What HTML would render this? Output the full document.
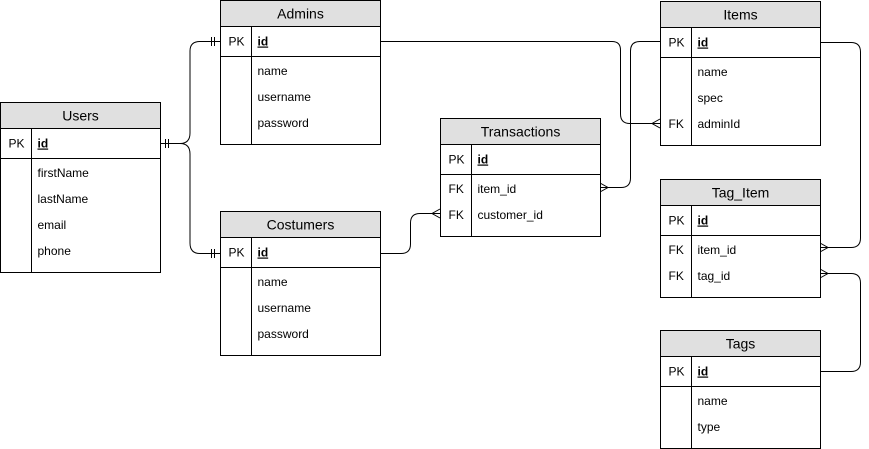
<!DOCTYPE html>
<html><head><meta charset="utf-8"><style>
html,body{margin:0;padding:0;background:#fff;}
svg{display:block;font-family:"Liberation Sans",Arial,sans-serif;}
</style></head><body>
<svg id="er" width="869" height="449" viewBox="0 0 869 449">
<g id="links" fill="none" stroke="#000" stroke-width="1">
  <path d="M160.5,143.5 H180 Q190,143.5 190,133 V51 Q190,41.5 200,41.5 H220"/>
  <path d="M160.5,143.5 H180 Q190,143.5 190,154 V243 Q190,253.5 200,253.5 H220"/>
  <path d="M165.5,139 V148 M168.5,139 V148 M211.5,37 V46 M214.5,37 V46 M211.5,249 V258 M214.5,249 V258"/>
  <path d="M380.5,41.5 H612 Q620.5,41.5 620.5,50 V114 Q620.5,123.5 630,123.5 H660 M660,119 L652,123.5 L660,128"/>
  <path d="M660,41.5 H640 Q630.5,41.5 630.5,51 V178 Q630.5,187.5 621,187.5 H600 M600,183 L608,187.5 L600,192"/>
  <path d="M380.5,253.5 H401 Q410.5,253.5 410.5,244 V223 Q410.5,213.5 420,213.5 H440 M440,209 L432,213.5 L440,218"/>
  <path d="M820,42.5 H851 Q860.5,42.5 860.5,52 V238 Q860.5,247.5 851,247.5 H820 M820,243 L828,247.5 L820,252"/>
  <path d="M820,273.5 H851 Q860.5,273.5 860.5,283 V362 Q860.5,371.5 851,371.5 H820 M820,269 L828,273.5 L820,278"/>
</g>
<g id="tables"></g>
</svg>
<script>
const tableNames = ["Users","Admins","Costumers","Transactions","Items","Tag_Item","Tags"];
const tableX = [0,220,220,440,660,660,660];
const tableY = [102,0,211,118,1,179,330];
const tableFields = [
  [["","firstName"],["","lastName"],["","email"],["","phone"]],
  [["","name"],["","username"],["","password"]],
  [["","name"],["","username"],["","password"]],
  [["FK","item_id"],["FK","customer_id"]],
  [["","name"],["","spec"],["FK","adminId"]],
  [["FK","item_id"],["FK","tag_id"]],
  [["","name"],["","type"]]
];
const NS="http://www.w3.org/2000/svg";
const root=document.getElementById('tables');
function mk(tag,attrs,parent,txt){const e=document.createElementNS(NS,tag);for(const k in attrs)e.setAttribute(k,attrs[k]);if(txt!==undefined)e.textContent=txt;parent.appendChild(e);return e;}
tableNames.forEach((name,i)=>{
  const x=tableX[i]+0.5,y=tableY[i]+0.5,w=160,f=tableFields[i];
  const h=26+30+f.length*26+10;
  const g=mk('g',{},root);
  
  
  mk('rect',{x:x,y:y,width:w,height:h,fill:'#fff',stroke:'#000'},g);
  mk('rect',{x:x,y:y,width:w,height:26,fill:'#e0e0e0',stroke:'#000'},g);
  const t=mk('text',{x:x+w/2,y:y+18,'text-anchor':'middle','font-size':'14',fill:'#000'},g,name);
  
  
  mk('line',{x1:x,y1:y+56,x2:x+w,y2:y+56,stroke:'#000'},g);
  mk('line',{x1:x+31,y1:y+26,x2:x+31,y2:y+h,stroke:'#000'},g);
  mk('text',{x:x+8,y:y+45,'font-size':'12'},g,'PK');
  const id=mk('text',{x:x+37,y:y+45,'font-size':'12','font-weight':'bold','text-decoration':'underline'},g,'id');
  
  
  f.forEach((r,j)=>{
    const cy=y+56+14+j*26+4.5;
    if(r[0]) mk('text',{x:x+8,y:cy,'font-size':'12'},g,r[0]);
    const ft=mk('text',{x:x+37,y:cy,'font-size':'12'},g,r[1]);
    
    
  });
});
</script>
</body></html>
